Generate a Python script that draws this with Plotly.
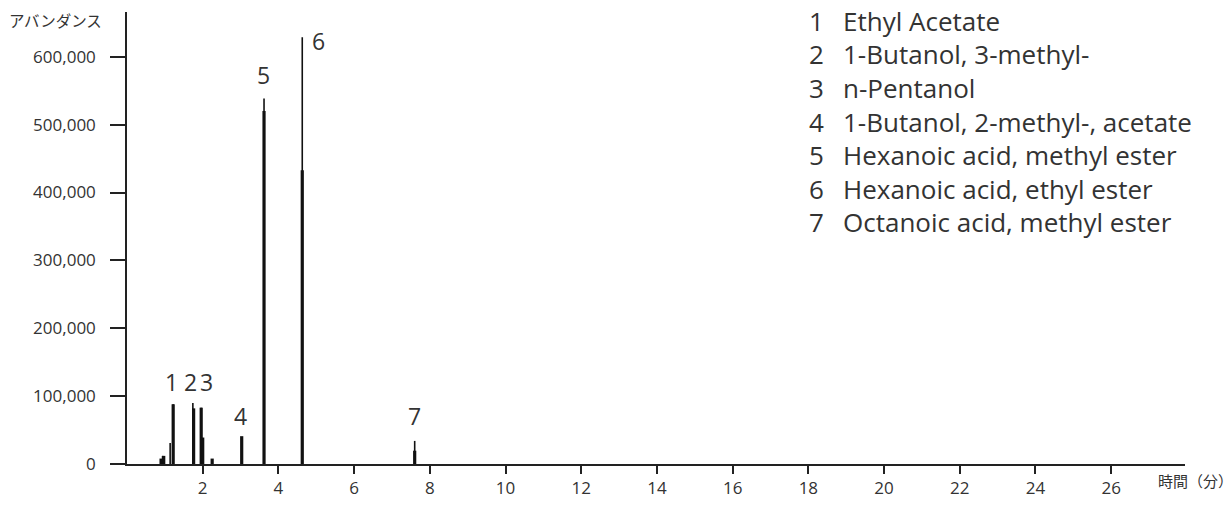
import plotly.graph_objects as go

# ---- data ----
thin_times = [0.94, 1.14, 1.22, 1.74, 1.96, 3.62, 4.63, 7.60]
thin_heights = [12000, 31000, 88000, 90000, 83000, 538700, 628800, 34000]

thick_times = [0.90, 0.97, 1.22, 1.76, 1.96, 2.00, 2.25, 3.03, 3.62, 4.63, 7.60]
thick_heights = [8000, 12000, 88000, 82000, 83000, 39000, 8000, 41000, 520000, 432800, 19600]

peak_ids = ["1", "2", "3", "4", "5", "6", "7"]
label_times = [1.18, 1.69, 2.11, 3.00, 3.60, 5.07, 7.60]
label_heights = [121000, 121000, 121000, 71000, 573000, 623000, 71000]

compounds = [
    "Ethyl Acetate",
    "1-Butanol, 3-methyl-",
    "n-Pentanol",
    "1-Butanol, 2-methyl-, acetate",
    "Hexanoic acid, methyl ester",
    "Hexanoic acid, ethyl ester",
    "Octanoic acid, methyl ester",
]

x_ticks = list(range(2, 27, 2))
y_ticks = [0, 100000, 200000, 300000, 400000, 500000, 600000]


def segments(times, heights):
    xs, ys = [], []
    for t, h in zip(times, heights):
        xs += [t, t, None]
        ys += [0, h, None]
    return xs, ys


FONT = "Noto Sans CJK JP, Noto Sans, sans-serif"
LFONT = "Open Sans, Noto Sans, sans-serif"
TXT = "#333333"

# page body has an 8px margin: figure coordinates = page pixels - 8
OFF = 8
L, T = 127 - OFF, 12 - OFF
PW, PH = 1185 - 127, 464 - 12


def px(xp):
    return (xp - 127) / PW


def py(yp):
    return (464 - yp) / PH


fig = go.Figure()
tx, ty = segments(thin_times, thin_heights)
fig.add_trace(go.Scatter(x=tx, y=ty, mode="lines",
                         line=dict(color="#111111", width=1.6),
                         hoverinfo="skip", showlegend=False))
kx, ky = segments(thick_times, thick_heights)
fig.add_trace(go.Scatter(x=kx, y=ky, mode="lines",
                         line=dict(color="#111111", width=3.2),
                         hoverinfo="skip", showlegend=False))

annotations = []
for pid, t, h in zip(peak_ids, label_times, label_heights):
    annotations.append(dict(x=t, y=h, xref="x", yref="y", text=pid,
                            showarrow=False, font=dict(size=23, color=TXT, family=LFONT)))

for i, (pid, name) in enumerate(zip(peak_ids, compounds)):
    y_px = 21 + i * 33.5
    annotations.append(dict(x=px(807), y=py(y_px), xref="paper", yref="paper",
                            text=pid, xanchor="left", yanchor="middle", showarrow=False,
                            font=dict(size=26, color=TXT, family=LFONT)))
    annotations.append(dict(x=px(841), y=py(y_px), xref="paper", yref="paper",
                            text=name, xanchor="left", yanchor="middle", showarrow=False,
                            font=dict(size=26, color=TXT, family=LFONT)))

annotations.append(dict(x=px(7), y=py(20), xref="paper", yref="paper",
                        text="アバンダンス", xanchor="left", yanchor="middle", showarrow=False,
                        font=dict(size=15.5, color=TXT, family=FONT)))
annotations.append(dict(x=px(1156), y=py(480), xref="paper", yref="paper",
                        text="時間（分）", xanchor="left", yanchor="middle", showarrow=False,
                        font=dict(size=15, color=TXT, family=FONT)))

fig.update_layout(
    width=1232 - OFF, height=506 - OFF,
    margin=dict(l=L, r=1232 - 1185, t=T, b=506 - 464, autoexpand=False),
    paper_bgcolor="white", plot_bgcolor="white",
    font=dict(family=LFONT, color=TXT, size=17),
    annotations=annotations,
)
fig.update_xaxes(range=[0, 27.95], tickvals=x_ticks, ticktext=[str(v) for v in x_ticks],
                 showgrid=False, zeroline=False, showline=True, linecolor="#222222", linewidth=1.5,
                 ticks="outside", ticklen=8, tickcolor="#222222", tickwidth=1.5,
                 tickfont=dict(size=17, color=TXT, family=LFONT))
fig.update_yaxes(range=[0, 666000], tickvals=y_ticks, tickformat=",d",
                 showgrid=False, zeroline=False, showline=True, linecolor="#222222", linewidth=1.5,
                 ticks="outside", ticklen=15, tickcolor="#222222", tickwidth=1.5,
                 ticklabelstandoff=11, tickfont=dict(size=17, color=TXT, family=LFONT))

fig.write_html("out.html")
